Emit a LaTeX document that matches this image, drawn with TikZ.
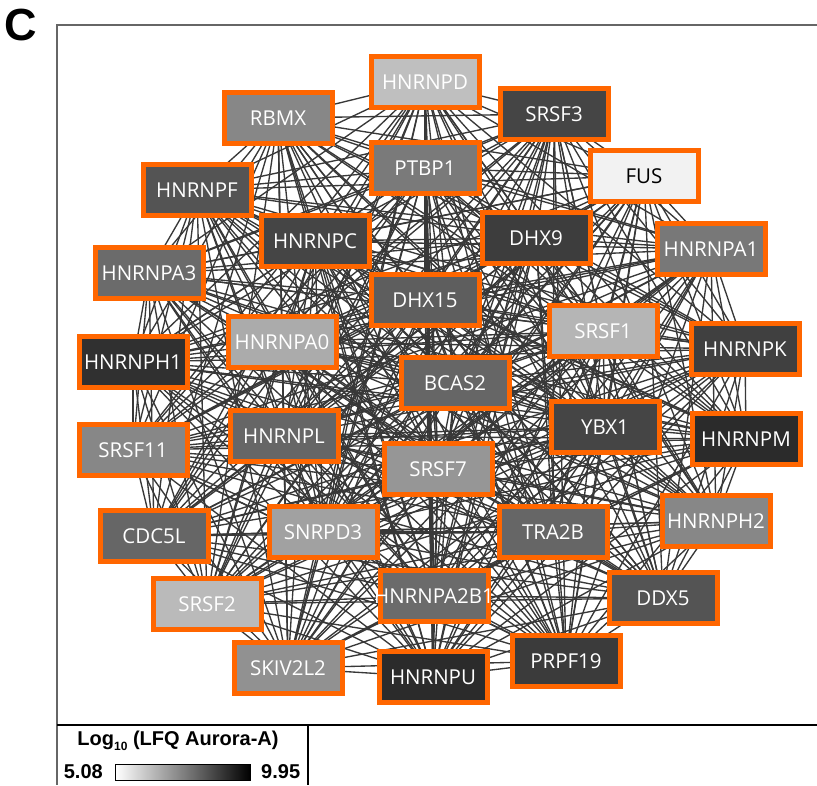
\documentclass[tikz,border=0pt]{standalone}
\usepackage{fontspec}
\newfontfamily\protfont{Open Sans}
\newfontfamily\helv{Liberation Sans}
\usetikzlibrary{backgrounds}

\definecolor{ringorange}{HTML}{FF6600}
\definecolor{edgegray}{HTML}{383838}
\definecolor{framegray}{HTML}{666666}

\tikzset{
  prot/.style={rectangle, draw=ringorange, line width=5pt, fill=black!#1,
    minimum width=108pt, minimum height=51pt, inner sep=0pt,
    text=white, font=\protfont\fontsize{20.5}{22}\selectfont},
  link/.style={draw=edgegray, line width=1.35pt},
  legend/.style={font=\helv\bfseries\fontsize{20}{22}\selectfont, inner sep=0pt}
}

\begin{document}
\begin{tikzpicture}[x=1pt,y=-1pt]
\useasboundingbox (0,0) rectangle (817,785);

% panel letter and frame
\node[font=\helv\bfseries\fontsize{45}{47}\selectfont, inner sep=0pt] (panel) at (21,25) {C};
\draw[framegray, line width=1.5pt] (817,25) -- (57,25) -- (57,785);
\draw[black, line width=1.2pt] (57,725) -- (817,725);
\draw[black, line width=1.2pt] (308,725) -- (308,785);

% proteins
\node[prot=25] (HNRNPD) at (425,82) {HNRNPD};
\node[prot=73] (SRSF3) at (554,114) {SRSF3};
\node[prot=47] (RBMX) at (278,118) {RBMX};
\node[prot=52] (PTBP1) at (425,168) {PTBP1};
\node[prot=5, text=black] (FUS) at (644,176) {FUS};
\node[prot=67] (HNRNPF) at (197,190) {HNRNPF};
\node[prot=73] (HNRNPC) at (315,241) {HNRNPC};
\node[prot=76] (DHX9) at (536,238) {DHX9};
\node[prot=53] (HNRNPA1) at (711,249) {HNRNPA1};
\node[prot=58] (HNRNPA3) at (149,273) {HNRNPA3};
\node[prot=63] (DHX15) at (425,300) {DHX15};
\node[prot=33] (HNRNPA0) at (282,342) {HNRNPA0};
\node[prot=29] (SRSF1) at (603,331) {SRSF1};
\node[prot=75] (HNRNPK) at (745,349) {HNRNPK};
\node[prot=81] (HNRNPH1) at (133,362) {HNRNPH1};
\node[prot=60] (BCAS2) at (455,383) {BCAS2};
\node[prot=60] (HNRNPL) at (284,436) {HNRNPL};
\node[prot=73] (YBX1) at (605,427) {YBX1};
\node[prot=83] (HNRNPM) at (746,439) {HNRNPM};
\node[prot=47] (SRSF11) at (133,450) {SRSF11};
\node[prot=41] (SRSF7) at (438,469) {SRSF7};
\node[prot=60] (CDC5L) at (154,536) {CDC5L};
\node[prot=37] (SNRPD3) at (323,532) {SNRPD3};
\node[prot=60] (TRA2B) at (553,532) {TRA2B};
\node[prot=47] (HNRNPH2) at (716,521) {HNRNPH2};
\node[prot=27] (SRSF2) at (207,604) {SRSF2};
\node[prot=58] (HNRNPA2B1) at (434,596) {\makebox[0pt]{HNRNPA2B1}};
\node[prot=67] (DDX5) at (663,598) {DDX5};
\node[prot=43] (SKIV2L2) at (288,668) {SKIV2L2};
\node[prot=83] (HNRNPU) at (433,677) {HNRNPU};
\node[prot=77] (PRPF19) at (566,661) {PRPF19};

% interactions
\begin{scope}[on background layer]
\foreach \a [count=\i] in {HNRNPD,SRSF3,RBMX,PTBP1,FUS,HNRNPF,HNRNPC,DHX9,HNRNPA1,HNRNPA3,DHX15,HNRNPA0,SRSF1,HNRNPK,HNRNPH1,BCAS2,HNRNPL,YBX1,HNRNPM,SRSF11,SRSF7,CDC5L,SNRPD3,TRA2B,HNRNPH2,SRSF2,HNRNPA2B1,DDX5,SKIV2L2,HNRNPU,PRPF19}
  \foreach \b [count=\j] in {HNRNPD,SRSF3,RBMX,PTBP1,FUS,HNRNPF,HNRNPC,DHX9,HNRNPA1,HNRNPA3,DHX15,HNRNPA0,SRSF1,HNRNPK,HNRNPH1,BCAS2,HNRNPL,YBX1,HNRNPM,SRSF11,SRSF7,CDC5L,SNRPD3,TRA2B,HNRNPH2,SRSF2,HNRNPA2B1,DDX5,SKIV2L2,HNRNPU,PRPF19}
    {\ifnum\j>\i \draw[link] (\a.center) -- (\b.center);\fi}
\end{scope}

% legend
\node[legend] (scaletitle) at (178,741) {Log\raisebox{-5pt}{\fontsize{12}{13}\selectfont 10} (LFQ Aurora-A)};
\node[draw=black, line width=1pt, left color=white, right color=black,
  minimum width=135pt, minimum height=16pt, inner sep=0pt] (scalebar) at (183,772) {};
\node[legend, anchor=east] (scalemin) at ([xshift=-12pt]scalebar.west) {5.08};
\node[legend, anchor=west] (scalemax) at ([xshift=10pt]scalebar.east) {9.95};
\end{tikzpicture}
\end{document}
